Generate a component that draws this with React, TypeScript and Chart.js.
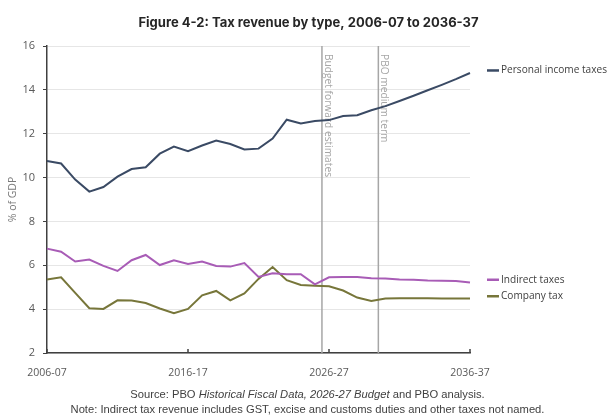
import React, { useEffect, useRef } from "react";
import { Chart, registerables } from "chart.js";

Chart.register(...registerables);

// Financial years on the horizontal axis
const years = [
  "2006-07", "2007-08", "2008-09", "2009-10", "2010-11", "2011-12", "2012-13", "2013-14",
  "2014-15", "2015-16", "2016-17", "2017-18", "2018-19", "2019-20", "2020-21", "2021-22",
  "2022-23", "2023-24", "2024-25", "2025-26", "2026-27", "2027-28", "2028-29", "2029-30",
  "2030-31", "2031-32", "2032-33", "2033-34", "2034-35", "2035-36", "2036-37",
];

// Tax revenue, % of GDP
const personalIncomeTaxes = [
  10.76, 10.64, 9.91, 9.36, 9.57, 10.04, 10.39, 10.47, 11.09, 11.41, 11.2, 11.46, 11.69, 11.53,
  11.28, 11.32, 11.78, 12.64, 12.47, 12.58, 12.62, 12.81, 12.84, 13.07, 13.26, 13.49, 13.73,
  13.98, 14.23, 14.49, 14.77,
];
const indirectTaxes = [
  6.76, 6.62, 6.17, 6.26, 5.97, 5.74, 6.23, 6.47, 6.01, 6.23, 6.06, 6.17, 5.97, 5.94, 6.1, 5.47,
  5.64, 5.59, 5.59, 5.13, 5.45, 5.47, 5.47, 5.41, 5.4, 5.35, 5.34, 5.31, 5.3, 5.28, 5.22,
];
const companyTax = [
  5.35, 5.45, 4.74, 4.04, 4.01, 4.4, 4.39, 4.28, 4.03, 3.81, 4.01, 4.63, 4.83, 4.4, 4.72, 5.38,
  5.92, 5.32, 5.1, 5.07, 5.04, 4.85, 4.53, 4.37, 4.48, 4.5, 4.5, 4.5, 4.49, 4.48, 4.48,
];

const seriesNames = ["Personal income taxes", "Indirect taxes", "Company tax"];
const seriesColors = ["#3a4a64", "#a85cb6", "#77763a"];

// Years that carry a labelled tick on the x axis
const labelledYears = ["2006-07", "2016-17", "2026-27", "2036-37"];

// Projection phase boundaries, each drawn between a year and the next
const phaseEndYears = ["2025-26", "2029-30"];
const phaseLabels = ["Budget forward estimates", "PBO medium term"];

const titleText = "Figure 4-2: Tax revenue by type, 2006-07 to 2036-37";
const yAxisTitle = "% of GDP";
const sourceParts = [
  { text: "Source: PBO ", italic: false },
  { text: "Historical Fiscal Data, 2026-27 Budget", italic: true },
  { text: " and PBO analysis.", italic: false },
];
const noteText =
  "Note: Indirect tax revenue includes GST, excise and customs duties and other taxes not named.";

const FONT = "'Open Sans', 'DejaVu Sans', sans-serif";
const TEXT_DARK = "#404040";
const AXIS_GREY = "#595959";

const decorations = {
  id: "decorations",
  beforeDatasetsDraw(chart: any) {
    const { ctx, chartArea, scales } = chart;
    const xs = scales.x;
    ctx.save();
    phaseEndYears.forEach((yr, k) => {
      const i = years.indexOf(yr);
      const px = (xs.getPixelForValue(i) + xs.getPixelForValue(i + 1)) / 2;
      ctx.strokeStyle = "#a6a6a6";
      ctx.lineWidth = 1.5;
      ctx.beginPath();
      ctx.moveTo(px, chartArea.top);
      ctx.lineTo(px, chartArea.bottom);
      ctx.stroke();
      ctx.save();
      ctx.translate(px + 6, chartArea.top + 8);
      ctx.rotate(Math.PI / 2);
      ctx.fillStyle = "#a6a6a6";
      ctx.font = `10.2px ${FONT}`;
      ctx.textAlign = "left";
      ctx.textBaseline = "middle";
      ctx.fillText(phaseLabels[k], 0, 0);
      ctx.restore();
    });
    ctx.restore();
  },
  afterDraw(chart: any) {
    const { ctx, chartArea, scales } = chart;
    const xs = scales.x;
    const ys = scales.y;
    const W = chart.width;
    ctx.save();

    // inward tick marks on the x axis
    ctx.strokeStyle = "#404040";
    ctx.lineWidth = 1.5;
    labelledYears.forEach((yr) => {
      const px = xs.getPixelForValue(years.indexOf(yr));
      ctx.beginPath();
      ctx.moveTo(px, chartArea.bottom);
      ctx.lineTo(px, chartArea.bottom - 4);
      ctx.stroke();
    });

    // title
    ctx.fillStyle = "#262626";
    ctx.font = `bold 13px 'Inter', ${FONT}`;
    ctx.textAlign = "center";
    ctx.textBaseline = "middle";
    ctx.fillText(titleText, W / 2 + 3, 23);

    // y axis title
    ctx.save();
    ctx.translate(13, (chartArea.top + chartArea.bottom) / 2);
    ctx.rotate(-Math.PI / 2);
    ctx.fillStyle = "#7a7a7a";
    ctx.font = `10.5px ${FONT}`;
    ctx.textAlign = "center";
    ctx.textBaseline = "middle";
    ctx.fillText(yAxisTitle, 0, 0);
    ctx.restore();

    // end-of-line legend labels, spread apart where they would collide
    const data = chart.data.datasets;
    const ends = data.map((d: any, k: number) => ({
      k,
      y: ys.getPixelForValue(d.data[d.data.length - 1]),
    }));
    ends.sort((a: any, b: any) => a.y - b.y);
    const gap = 16.5;
    for (let j = 1; j < ends.length; j++) {
      if (ends[j].y - ends[j - 1].y < gap) {
        const mid = (ends[j].y + ends[j - 1].y) / 2;
        ends[j - 1].y = mid - gap / 2;
        ends[j].y = mid + gap / 2;
      }
    }
    const lx = chartArea.right + 17;
    ctx.font = `10.1px ${FONT}`;
    ctx.textAlign = "left";
    ctx.textBaseline = "middle";
    ends.forEach((e: any) => {
      const y = e.y - 2.5;
      ctx.strokeStyle = data[e.k].borderColor;
      ctx.lineWidth = 2.5;
      ctx.beginPath();
      ctx.moveTo(lx, y);
      ctx.lineTo(lx + 12, y);
      ctx.stroke();
      ctx.fillStyle = TEXT_DARK;
      ctx.fillText(data[e.k].label, lx + 14, y);
    });

    // source and note
    ctx.fillStyle = TEXT_DARK;
    ctx.textBaseline = "middle";
    ctx.textAlign = "left";
    const fnt = (it: boolean) => `${it ? "italic " : ""}11.2px 'Liberation Sans', sans-serif`;
    let total = 0;
    sourceParts.forEach((p) => {
      ctx.font = fnt(p.italic);
      total += ctx.measureText(p.text).width;
    });
    let sx = W / 2 + 2 - total / 2;
    sourceParts.forEach((p) => {
      ctx.font = fnt(p.italic);
      ctx.fillText(p.text, sx, 395);
      sx += ctx.measureText(p.text).width;
    });
    ctx.font = fnt(false);
    ctx.textAlign = "center";
    ctx.fillText(noteText, W / 2 + 2, 409.5);

    ctx.restore();
  },
};

export default function App() {
  const canvasRef = useRef<HTMLCanvasElement | null>(null);

  useEffect(() => {
    const canvas = canvasRef.current;
    if (!canvas) return;
    const seriesData = [personalIncomeTaxes, indirectTaxes, companyTax];
    const chart = new Chart(canvas, {
      type: "line",
      data: {
        labels: years,
        datasets: seriesData.map((values, k) => ({
          label: seriesNames[k],
          data: values,
          borderColor: seriesColors[k],
          backgroundColor: seriesColors[k],
          borderWidth: 2,
          pointRadius: 0,
          tension: 0,
        })),
      },
      options: {
        animation: false,
        responsive: false,
        devicePixelRatio: 1,
        layout: { padding: { top: 46, right: 141, bottom: 0, left: 0 } },
        plugins: {
          legend: { display: false },
          title: { display: false },
          tooltip: { enabled: false },
        },
        scales: {
          x: {
            type: "category",
            offset: false,
            grid: { display: false, drawTicks: false },
            border: { display: true, color: "#404040", width: 1.5 },
            ticks: {
              autoSkip: false,
              maxRotation: 0,
              padding: 14,
              color: AXIS_GREY,
              font: { family: FONT, size: 10.5 },
              callback: (_v: any, idx: number) =>
                labelledYears.includes(years[idx]) ? years[idx] : "",
            },
            afterFit: (scale: any) => {
              scale.height = 63;
            },
          },
          y: {
            min: 2,
            max: 16,
            grid: {
              color: "#e6e6e6",
              lineWidth: 1,
              tickColor: "#404040",
              tickLength: 4,
              drawTicks: true,
            },
            border: { display: true, color: "#404040", width: 1.5 },
            ticks: {
              stepSize: 2,
              padding: 8,
              color: AXIS_GREY,
              font: { family: FONT, size: 11 },
            },
            afterFit: (scale: any) => {
              scale.width = 47;
            },
          },
        },
      },
      plugins: [decorations],
    });
    return () => chart.destroy();
  }, []);

  return (
    <div style={{ position: "absolute", left: 0, top: 0, width: 611, height: 416, background: "#fff" }}>
      <canvas ref={canvasRef} width={611} height={416} />
    </div>
  );
}
